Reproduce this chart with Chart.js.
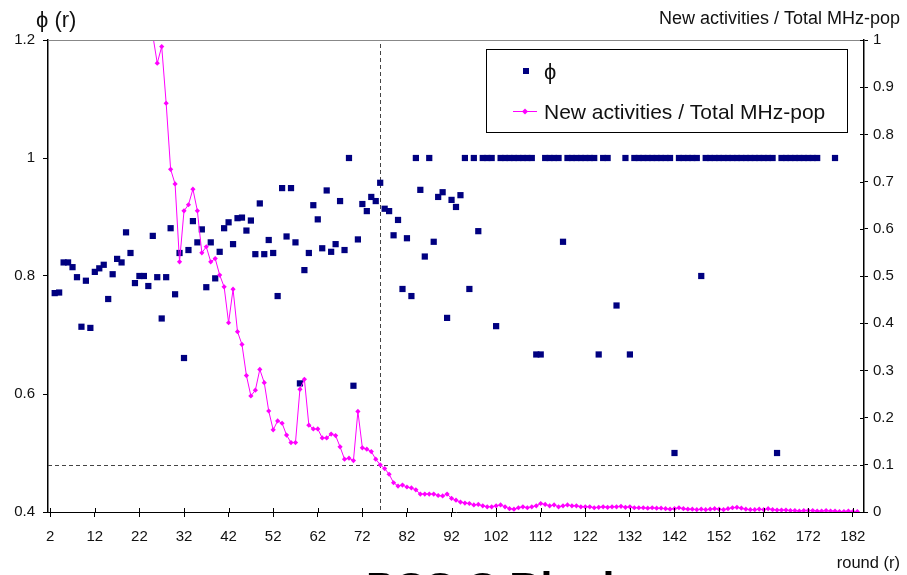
<!DOCTYPE html>
<html>
<head>
<meta charset="utf-8">
<script src="https://cdn.jsdelivr.net/npm/chart.js@4.4.1/dist/chart.umd.min.js"></script>
<style>
  html, body { margin: 0; padding: 0; background: #fff; overflow: hidden; }
  canvas { display: block; }
</style>
</head>
<body>
<canvas id="phiChart" width="907" height="575"></canvas>
<script>
// data srt
// phi(r) per round, first entry is round 2 (null = no point shown)
const FIRST_ROUND = 2;
const phiValues = [
  null, 0.771, 0.772, 0.823, 0.823, 0.815, 0.798, 0.714, 0.792, 0.712,     // 2-11
  0.807, 0.813, 0.819, 0.761, 0.803, 0.829, 0.823, 0.874, 0.839, 0.788,    // 12-21
  0.800, 0.800, 0.783, 0.868, 0.798, 0.728, 0.798, 0.881, 0.769, 0.839,    // 22-31
  0.661, 0.844, 0.893, 0.857, 0.879, 0.781, 0.857, 0.796, 0.841, 0.881,    // 32-41
  0.891, 0.854, 0.898, 0.899, 0.877, 0.894, 0.837, 0.923, 0.837, 0.861,    // 42-51
  0.839, 0.766, 0.949, 0.867, 0.949, 0.857, 0.618, 0.810, 0.839, 0.920,    // 52-61
  0.896, 0.847, 0.945, 0.841, 0.854, 0.927, 0.844, 1, 0.614, 0.862,        // 62-71
  0.922, 0.910, 0.934, 0.927, 0.958, 0.914, 0.910, 0.869, 0.895, 0.778,    // 72-81
  0.864, 0.766, 1, 0.946, 0.833, 1, 0.858, 0.934, 0.942, 0.729,            // 82-91
  0.929, 0.917, 0.937, 1, 0.778, 1, 0.876, 1, 1, 1,                        // 92-101
  0.715, 1, 1, 1, 1, 1, 1, 1, 1, 0.667,                                    // 102-111
  0.667, 1, 1, 1, 1, 0.858, 1, 1, 1, 1,                                    // 112-121
  1, 1, 1, 0.667, 1, 1, null, 0.75, null, 1,                               // 122-131
  0.667, 1, 1, 1, 1, 1, 1, 1, 1, 1,                                        // 132-141
  0.5, 1, 1, 1, 1, 1, 0.8, 1, 1, 1,                                        // 142-151
  1, 1, 1, 1, 1, 1, 1, 1, 1, 1,                                            // 152-161
  1, 1, 1, 0.5, 1, 1, 1, 1, 1, 1,                                          // 162-171
  1, 1, 1, null, null, null, 1                                             // 172-178
];

// new activities / total MHz-pop, first entry is round 25
const ACTIVITY_FIRST_ROUND = 25;
const activityValues = [
  1.01, 0.951, 0.986, 0.866, 0.726, 0.695, 0.530, 0.638, 0.651, 0.684,     // 25-34
  0.638, 0.549, 0.562, 0.530, 0.537, 0.502, 0.477, 0.401, 0.472, 0.382,    // 35-44
  0.355, 0.289, 0.246, 0.258, 0.302, 0.274, 0.214, 0.174, 0.193, 0.188,    // 45-54
  0.163, 0.147, 0.147, 0.260, 0.281, 0.184, 0.176, 0.176, 0.157, 0.157,    // 55-64
  0.165, 0.162, 0.138, 0.112, 0.114, 0.109, 0.213, 0.136, 0.133, 0.128,    // 65-74
  0.112, 0.100, 0.092, 0.080, 0.062, 0.055, 0.057, 0.053, 0.051, 0.047,    // 75-84
  0.038, 0.038, 0.038, 0.038, 0.035, 0.034, 0.038, 0.029, 0.025, 0.021,    // 85-94
  0.019, 0.018, 0.015, 0.016, 0.013, 0.011, 0.011, 0.013, 0.015, 0.011,    // 95-104
  0.007, 0.006, 0.009, 0.011, 0.009, 0.011, 0.013, 0.018, 0.016, 0.013,    // 105-114
  0.015, 0.011, 0.013, 0.015, 0.013, 0.013, 0.011, 0.011, 0.011, 0.009,    // 115-124
  0.010, 0.011, 0.010, 0.011, 0.011, 0.012, 0.010, 0.011, 0.009, 0.009,    // 125-134
  0.009, 0.008, 0.009, 0.008, 0.008, 0.007, 0.006, 0.007, 0.009, 0.007,    // 135-144
  0.006, 0.006, 0.005, 0.006, 0.005, 0.006, 0.007, 0.006, 0.005, 0.007,    // 145-154
  0.009, 0.010, 0.008, 0.006, 0.005, 0.005, 0.006, 0.005, 0.007, 0.005,    // 155-164
  0.004, 0.004, 0.004, 0.003, 0.003, 0.002, 0.003, 0.003, 0.003, 0.002,    // 165-174
  0.002, 0.003, 0.002, 0.002, 0.001, 0.001, 0.002, 0.001, 0.001            // 175-183
];

const xTicks = [2, 12, 22, 32, 42, 52, 62, 72, 82, 92, 102, 112, 122, 132, 142, 152, 162, 172, 182];
const leftTicks = [0.4, 0.6, 0.8, 1, 1.2];
const rightTicks = [0, 0.1, 0.2, 0.3, 0.4, 0.5, 0.6, 0.7, 0.8, 0.9, 1];

// reference lines (dashed)
const CUT_ROUND = 76;
const CUT_LEVEL = 0.1;
// data end

const FONT = '"Liberation Sans", Arial, sans-serif';
const NAVY = '#000080';
const PINK = '#ff00ff';

const phiPoints = phiValues.map((v, i) => ({ x: FIRST_ROUND + i, y: v }));
const activityPoints = activityValues.map((v, i) => ({ x: ACTIVITY_FIRST_ROUND + i, y: v }));

function fixTicks(list) {
    return function (scale) {
        scale.ticks = list.map(v => ({ value: v }));
    };
}

// dashed lines, frame bits, titles, legend
const decorations = {
    id: 'decorations',
    beforeDatasetsDraw(chart) {
        const { ctx, chartArea, scales } = chart;
        const cx = scales.x.getPixelForValue(CUT_ROUND);
        const cy = scales.y1.getPixelForValue(CUT_LEVEL);
        ctx.save();
        ctx.strokeStyle = '#444';
        ctx.lineWidth = 1;
        ctx.setLineDash([4, 3]);
        ctx.beginPath();
        ctx.moveTo(Math.round(cx) + 0.5, chartArea.top + 4);
        ctx.lineTo(Math.round(cx) + 0.5, chartArea.bottom);
        ctx.moveTo(chartArea.left, Math.round(cy) + 0.5);
        ctx.lineTo(chartArea.right, Math.round(cy) + 0.5);
        ctx.stroke();
        ctx.restore();
    },
    afterDraw(chart) {
        const { ctx, chartArea, scales } = chart;
        ctx.save();

        // top frame line
        ctx.strokeStyle = '#888';
        ctx.lineWidth = 1;
        ctx.beginPath();
        ctx.moveTo(chartArea.left, chartArea.top + 0.5);
        ctx.lineTo(chartArea.right, chartArea.top + 0.5);
        ctx.stroke();

        // inner halves of the crossing tick marks
        ctx.strokeStyle = '#000';
        ctx.beginPath();
        xTicks.forEach(v => {
            const px = Math.round(scales.x.getPixelForValue(v)) + 0.5;
            ctx.moveTo(px, chartArea.bottom);
            ctx.lineTo(px, chartArea.bottom - 4);
        });
        rightTicks.forEach(v => {
            const py = Math.round(scales.y1.getPixelForValue(v)) + 0.5;
            ctx.moveTo(chartArea.right, py);
            ctx.lineTo(chartArea.right - 4, py);
        });
        ctx.stroke();

        // titles
        ctx.fillStyle = '#111';
        ctx.textBaseline = 'alphabetic';
        ctx.textAlign = 'left';
        ctx.font = '22px ' + FONT;
        ctx.fillText('ϕ (r)', 36, 27);
        ctx.textAlign = 'right';
        ctx.font = '18px ' + FONT;
        ctx.fillText('New activities / Total MHz-pop', 900, 24);
        ctx.font = '16.5px ' + FONT;
        ctx.fillText('round (r)', 900, 568);
        ctx.textAlign = 'left';
        ctx.fillStyle = '#000';
        ctx.font = 'bold 43px ' + FONT;
        ctx.fillText('PCS C Block', 366, 602);

        // legend
        const ds = chart.data.datasets;
        ctx.fillStyle = '#fff';
        ctx.fillRect(487, 50, 360, 82);
        ctx.strokeStyle = '#000';
        ctx.lineWidth = 1;
        ctx.strokeRect(486.5, 49.5, 361, 83);

        ctx.fillStyle = NAVY;
        ctx.fillRect(523, 68, 6, 6);
        ctx.fillStyle = '#111';
        ctx.font = '22px ' + FONT;
        ctx.fillText(ds[1].label, 544, 79);

        ctx.strokeStyle = PINK;
        ctx.beginPath();
        ctx.moveTo(513, 111.5);
        ctx.lineTo(537, 111.5);
        ctx.stroke();
        ctx.fillStyle = PINK;
        ctx.beginPath();
        ctx.moveTo(525, 108.5);
        ctx.lineTo(528, 111.5);
        ctx.lineTo(525, 114.5);
        ctx.lineTo(522, 111.5);
        ctx.closePath();
        ctx.fill();
        ctx.fillStyle = '#111';
        ctx.font = '21px ' + FONT;
        ctx.fillText(ds[0].label, 544, 119);

        ctx.restore();
    }
};

const tickFont = { family: FONT, size: 15 };

const ctx = document.getElementById('phiChart').getContext('2d');
const chart = new Chart(ctx, {
    type: 'scatter',
    data: {
        datasets: [
            {
                label: 'New activities / Total MHz-pop',
                data: activityPoints,
                yAxisID: 'y1',
                showLine: true,
                borderColor: PINK,
                backgroundColor: PINK,
                borderWidth: 1,
                pointStyle: 'rectRot',
                pointRadius: 2.6,
                pointBorderWidth: 0,
                tension: 0,
                order: 0
            },
            {
                label: 'ϕ',
                data: phiPoints,
                yAxisID: 'y',
                showLine: false,
                backgroundColor: NAVY,
                borderColor: NAVY,
                pointStyle: 'rect',
                pointRadius: 4.4,
                pointBorderWidth: 0,
                order: 1
            }
        ]
    },
    options: {
        responsive: false,
        animation: false,
        devicePixelRatio: 1,
        layout: { padding: { top: 40, left: 0, right: 0, bottom: 0 } },
        plugins: {
            legend: { display: false },
            tooltip: { enabled: false },
            title: { display: false }
        },
        scales: {
            x: {
                type: 'linear',
                min: 1.5,
                max: 184.5,
                afterBuildTicks: fixTicks(xTicks),
                afterFit: s => { s.height = 63; },
                ticks: { autoSkip: false, maxRotation: 0, color: '#111', font: tickFont, padding: 11 },
                grid: { drawOnChartArea: false, tickLength: 5, color: '#000' },
                border: { color: '#000', width: 1 }
            },
            y: {
                position: 'left',
                min: 0.4,
                max: 1.2,
                afterBuildTicks: fixTicks(leftTicks),
                afterFit: s => { s.width = 48; },
                ticks: { color: '#111', font: tickFont, padding: 8, callback: v => String(+v.toFixed(1)) },
                grid: { drawOnChartArea: false, tickLength: 5, color: '#000' },
                border: { color: '#000', width: 1.5 }
            },
            y1: {
                position: 'right',
                min: 0,
                max: 1,
                afterBuildTicks: fixTicks(rightTicks),
                afterFit: s => { s.width = 43; },
                ticks: { color: '#111', font: tickFont, padding: 5, callback: v => String(+v.toFixed(1)) },
                grid: { drawOnChartArea: false, tickLength: 4, color: '#000' },
                border: { color: '#000', width: 1.5 }
            }
        }
    },
    plugins: [decorations]
});
</script>
</body>
</html>
